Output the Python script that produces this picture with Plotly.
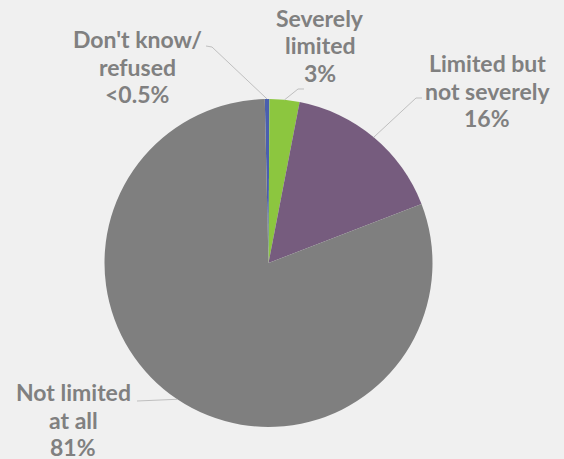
import math
import plotly.graph_objects as go

# ---- data ----
labels = [["Don't know/", "refused"], ["Severely", "limited"], ["Limited but", "not severely"], ["Not limited", "at all"]]
value_text = ["<0.5%", "3%", "16%", "81%"]
values = [0.45, 2.95, 16.1, 80.5]
colors = ["#4a5fae", "#8cc63f", "#765c7e", "#7f7f7f"]

# ---- layout constants (pixels) ----
W, H = 564, 459
CX, CY, R = 268.5, 263.0, 164.0
ROT = -1.3  # degrees, clockwise positive (plotly convention)

# label centre x and first-line centre y (px), line spacing
label_pos = [(137, 39), (320, 18), (487, 63), (73, 392)]
LINE_GAP = 27.5
elbows = [
    [(212, 47), (206, 46)],
    [(298, 89), (304, 89)],
    [(416, 98), (422, 98)],
    [(137, 401)],
]


def px(x):
    return x / W


def py(y):
    return 1 - y / H


fig = go.Figure(go.Pie(
    values=values,
    labels=[" ".join(l) for l in labels],
    sort=False,
    direction="clockwise",
    rotation=ROT,
    marker=dict(colors=colors, line=dict(width=0)),
    textinfo="none",
    hoverinfo="label+percent",
    domain=dict(x=[px(CX - R), px(CX + R)], y=[py(CY + R), py(CY - R)]),
    showlegend=False,
))

total = sum(values)
cum = 0.0
shapes = []
annotations = []
for i, v in enumerate(values):
    mid = math.radians(ROT + (cum + v / 2) / total * 360)
    cum += v
    ex = CX + R * math.sin(mid)
    ey = CY - R * math.cos(mid)
    pts = [(ex, ey)] + elbows[i]
    path = "M " + " L ".join(f"{px(x):.5f},{py(y):.5f}" for x, y in pts)
    shapes.append(dict(type="path", path=path, xref="paper", yref="paper",
                       line=dict(color="#bfbfbf", width=1)))
    lx, ly = label_pos[i]
    for j, line in enumerate(labels[i] + [value_text[i]]):
        annotations.append(dict(
            text=line,
            x=px(lx), y=py(ly + j * LINE_GAP), xref="paper", yref="paper",
            xanchor="center", yanchor="middle", align="center",
            showarrow=False,
            font=dict(family="Lato", size=23, color="#808080", weight="bold"),
        ))

fig.update_layout(
    width=W, height=H,
    margin=dict(l=0, r=0, t=0, b=0),
    paper_bgcolor="#f0f0f0",
    plot_bgcolor="#f0f0f0",
    shapes=shapes,
    annotations=annotations,
)

fig.write_html(
    "out.html",
    config={"displayModeBar": False},
    post_script="document.body.style.margin='0';document.body.style.overflow='hidden';",
)
